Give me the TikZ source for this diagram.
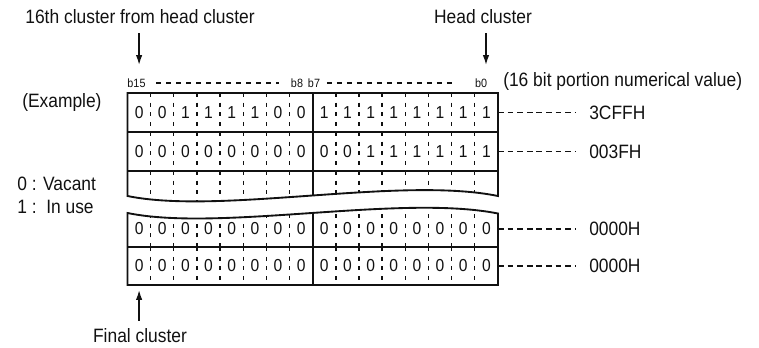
\documentclass[tikz,border=0pt]{standalone}
\usepackage{fontspec}
\setmainfont{Liberation Sans}[FakeStretch=0.9]
\usepackage{tikz}
\usetikzlibrary{arrows.meta,positioning}
\definecolor{inkc}{HTML}{111111}
\tikzset{
  ar/.style={-{Latex[length=2.6mm,width=1.7mm]},line width=1.1pt,inkc},
  thk/.style={line width=1.4pt,inkc},
  bitsep/.style={line width=1pt,inkc,dash pattern=on 3pt off 4.3pt},
  lead/.style={line width=1pt,inkc,dash pattern=on 4.3pt off 2.9pt},
  toplead/.style={line width=1pt,inkc,dash pattern=on 3.7pt off 3.8pt},
  lbl/.style={font=\fontsize{14.5}{16}\selectfont,inner sep=0pt,text=inkc},
  bit/.style={font=\fontsize{13}{15}\selectfont,inner sep=0pt,text=inkc},
  bl/.style={font=\fontsize{9}{10}\selectfont,inner sep=0pt,text=inkc}
}

\begin{document}
\begin{tikzpicture}[x=0.75pt,y=-0.75pt]
\useasboundingbox (0,0) rectangle (759,347);
% frame, rows 1-3 and rows 4-5
\draw[thk] (127.5,93) -- (498,93) -- (498,196) .. controls (400,176) and (220,215) .. (127.5,196) -- cycle;
\draw[thk] (127.5,213) .. controls (220,232) and (400,194) .. (498,213.5) -- (498,285) -- (127.5,285) -- cycle;
\foreach \yy in {132,171,247} \draw[thk] (127.5,\yy) -- (498,\yy);
% separators of the upper part
\begin{scope}
\clip (127.5,93) -- (498,93) -- (498,196) .. controls (400,176) and (220,215) .. (127.5,196) -- cycle;
\foreach \ya/\yb in {93/132,132/171,171/205}
  \foreach \i in {1,...,15} \draw[bitsep] (127.5+\i*23.15,\ya) -- (127.5+\i*23.15,\yb);
\draw[thk] (312.7,93) -- (312.7,205);
\end{scope}
% separators of the lower part
\begin{scope}
\clip (127.5,213) .. controls (220,232) and (400,194) .. (498,213.5) -- (498,285) -- (127.5,285) -- cycle;
\foreach \ya/\yb in {247/200,247/285}
  \foreach \i in {1,...,15} \draw[bitsep] (127.5+\i*23.15,\ya) -- (127.5+\i*23.15,\yb);
\draw[thk] (312.7,200) -- (312.7,285);
\end{scope}
% bit values
\foreach \b [count=\i from 0] in {0,0,1,1,1,1,0,0,1,1,1,1,1,1,1,1}
  \node[bit] (ra\i) at (139.1+\i*23.15,112.5) {\b};
\foreach \b [count=\i from 0] in {0,0,0,0,0,0,0,0,0,0,1,1,1,1,1,1}
  \node[bit] (rb\i) at (139.1+\i*23.15,151.5) {\b};
\foreach \b [count=\i from 0] in {0,0,0,0,0,0,0,0,0,0,0,0,0,0,0,0}
  \node[bit] (rd\i) at (139.1+\i*23.15,229) {\b};
\foreach \b [count=\i from 0] in {0,0,0,0,0,0,0,0,0,0,0,0,0,0,0,0}
  \node[bit] (re\i) at (139.1+\i*23.15,266) {\b};
% bit numbers
\node[bl] (b15) at (136.5,83) {b15};
\node[bl] (b8) at (297,83) {b8};
\node[bl] (b7) at (314,83) {b7};
\node[bl] (b0) at (481,83) {b0};
\draw[toplead] ([xshift=8pt]b15.east) -- ([xshift=-9pt]b8.west);
\draw[toplead] ([xshift=5pt]b7.east) -- ([xshift=-14pt]b0.west);
\node[lbl,anchor=west] (numval) at (503,81) {(16 bit portion numerical value)};
% top and bottom arrows
\node[lbl] (sixteenth) at (140,17) {16th cluster from head cluster};
\node[lbl] (head) at (483,17) {Head cluster};
\node[lbl] (final) at (140,335.5) {Final cluster};
\coordinate (sixtip) at (139.1,65);
\coordinate (headtip) at (486,65);
\coordinate (finaltip) at (139.1,290);
\draw[ar] ([yshift=-6.5pt]sixteenth.south -| sixtip) -- (sixtip);
\draw[ar] ([yshift=-6.5pt]head.south -| headtip) -- (headtip);
\draw[ar] ([yshift=5.5pt]final.north -| finaltip) -- (finaltip);
% left notes
\node[lbl,anchor=west] (example) at (22,102) {(Example)};
\node[lbl,anchor=west] (vacant) at (17,184) {0 : Vacant};
\node[lbl,anchor=west] (inuse) at (17,207) {1 :\ \ In use};
% values at the right
\node[lbl,anchor=west] (va) at (589,112.5) {3CFFH};
\node[lbl,anchor=west] (vb) at (589,151.5) {003FH};
\node[lbl,anchor=west] (vd) at (589,229) {0000H};
\node[lbl,anchor=west] (ve) at (589,266) {0000H};
\coordinate (ea) at (498,112.5);
\coordinate (eb) at (498,151.5);
\coordinate (ed) at (498,229);
\coordinate (ee) at (498,266);
\foreach \r in {a,b,d,e} \draw[lead] (e\r) -- ([xshift=-10.5pt]v\r.west);
\end{tikzpicture}
\end{document}
